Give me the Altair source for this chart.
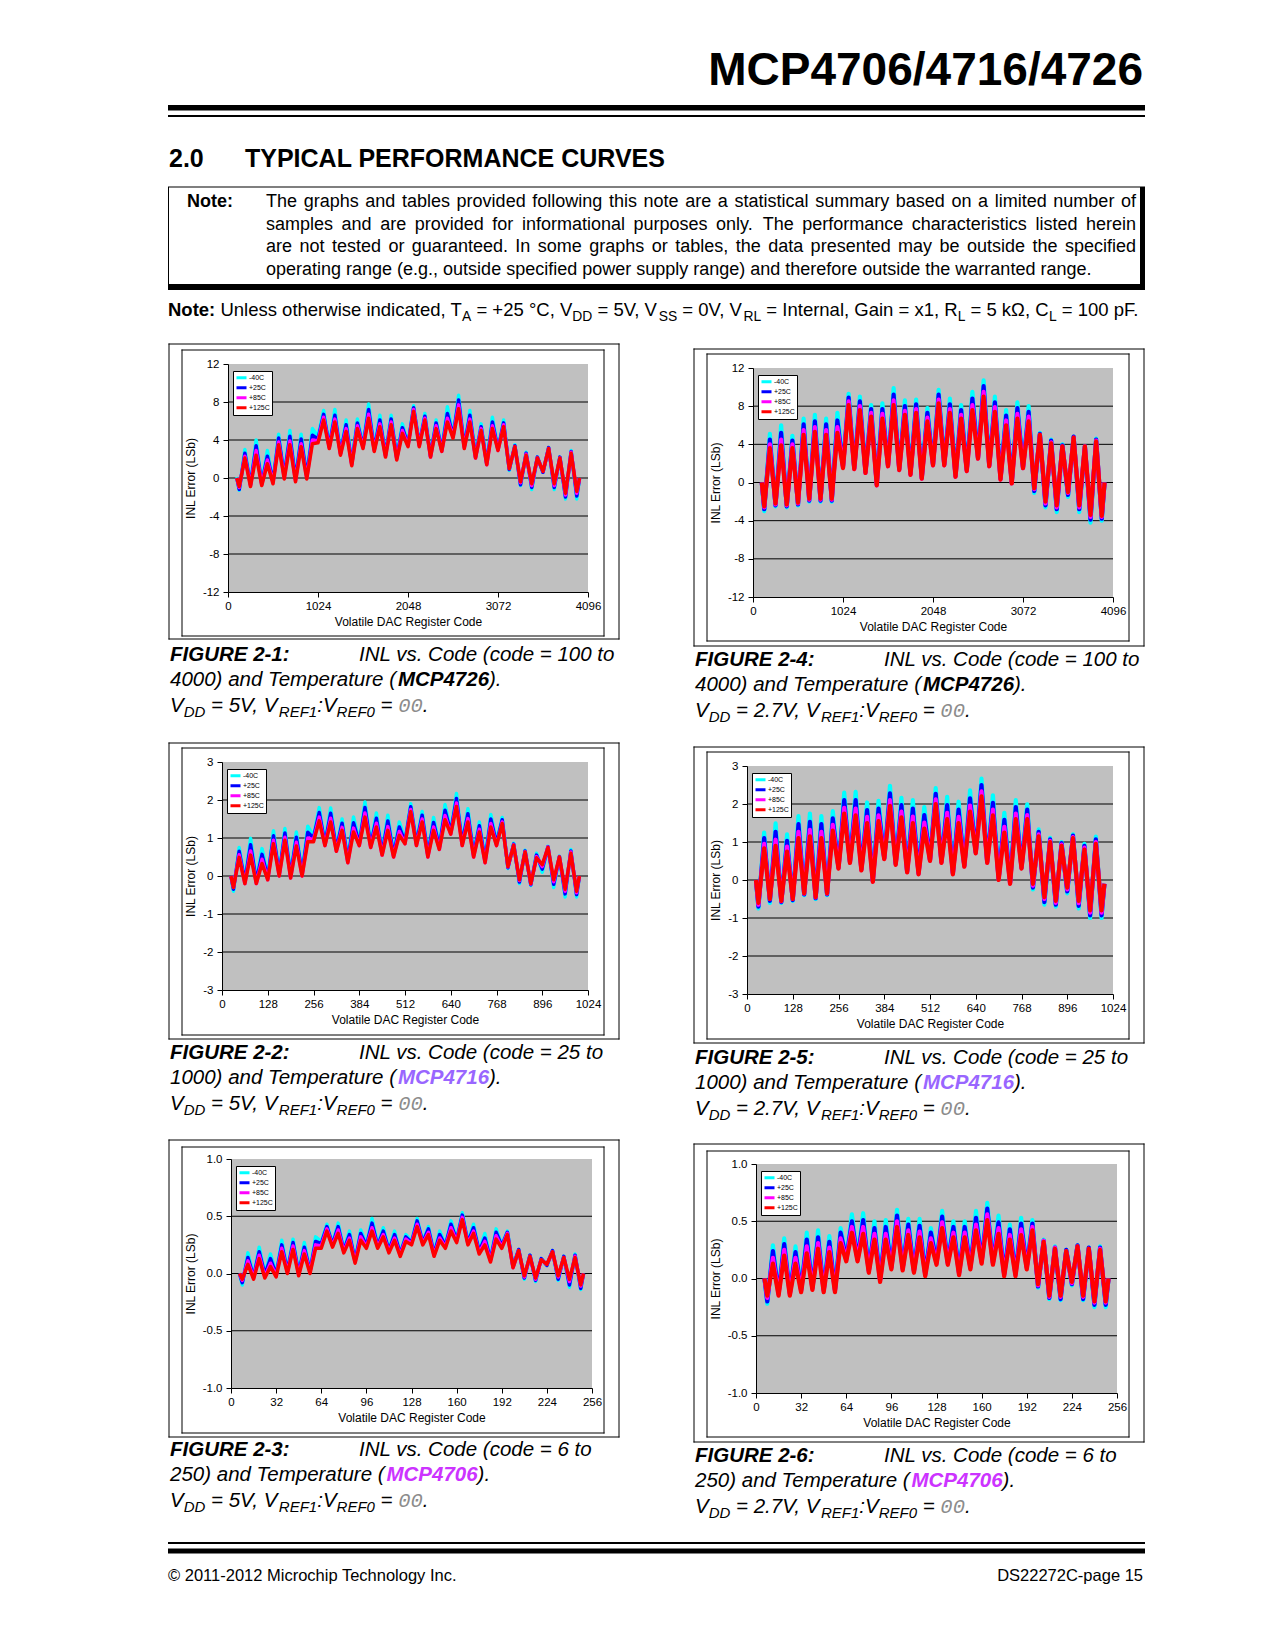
import altair as alt
import pandas as pd

FONT = "Liberation Sans"
TEMPS = ["-40C", "+25C", "+85C", "+125C"]
TEMP_COLORS = ["#00FFFF", "#0000FF", "#FF00FF", "#FF0000"]

# ---------------- sample codes ----------------
CODES_12BIT = [100] + list(range(128, 3969, 64)) + [4000]
CODES_10BIT = [25] + list(range(32, 993, 16)) + [1000]
CODES_8BIT = [6] + list(range(8, 249, 4)) + [250]

# ---------------- FIGURE 2-1 (MCP4726, VDD=5V) ----------------
F21_M40 = [0.1, -1.3, 3.0, -0.6, 4.0, -0.5, 2.9, -0.3, 4.6, 0.3, 5.0, 0.0, 4.6, 0.3, 5.2, 4.4, 7.1, 3.5, 7.2, 2.7, 6.1, 1.7, 6.2, 3.5, 7.8, 3.2, 6.6, 2.5, 6.6, 2.3, 5.7, 3.6, 7.6, 3.6, 6.8, 2.4, 6.1, 3.0, 7.5, 4.5, 8.7, 3.4, 7.1, 2.3, 5.7, 1.6, 6.4, 3.1, 6.1, 0.8, 3.5, -0.8, 2.7, -1.2, 2.2, 0.6, 3.2, -1.2, 2.2, -2.2, 2.9, -2.2, 0.0]
F21_P25 = [0.0, -1.2, 2.6, -0.7, 3.4, -0.6, 2.3, -0.4, 4.2, 0.2, 4.4, -0.1, 4.1, 0.2, 4.5, 4.1, 6.7, 3.3, 6.6, 2.6, 5.6, 1.5, 5.8, 3.3, 7.2, 3.0, 6.1, 2.4, 6.2, 2.1, 5.3, 3.5, 7.4, 3.5, 6.5, 2.3, 5.8, 2.9, 6.8, 4.4, 8.2, 3.3, 6.6, 2.2, 5.4, 1.5, 5.9, 3.0, 5.8, 0.9, 3.4, -0.7, 2.6, -1.0, 2.2, 0.6, 3.2, -1.0, 2.2, -2.0, 2.8, -1.9, 0.0]
F21_P85 = [0.0, -1.0, 2.3, -0.8, 2.9, -0.7, 1.9, -0.5, 3.8, 0.0, 3.9, -0.3, 3.6, 0.0, 4.0, 3.9, 6.4, 3.2, 6.2, 2.5, 5.2, 1.4, 5.5, 3.2, 6.7, 2.9, 5.7, 2.3, 5.9, 2.0, 5.0, 3.4, 7.2, 3.4, 6.3, 2.2, 5.5, 2.8, 6.3, 4.3, 7.7, 3.2, 6.2, 2.1, 5.2, 1.4, 5.5, 2.9, 5.6, 1.0, 3.3, -0.5, 2.5, -0.8, 2.1, 0.7, 3.1, -0.8, 2.1, -1.8, 2.7, -1.6, 0.0]
F21_P125 = [0.0, -0.9, 2.1, -0.9, 2.4, -0.8, 1.5, -0.6, 3.5, -0.1, 3.5, -0.4, 3.3, -0.1, 3.6, 3.7, 6.1, 3.1, 5.9, 2.4, 4.9, 1.3, 5.2, 3.1, 6.3, 2.8, 5.4, 2.2, 5.6, 1.9, 4.7, 3.3, 7.0, 3.3, 6.1, 2.2, 5.2, 2.8, 5.9, 4.2, 7.3, 3.1, 5.9, 2.1, 5.0, 1.4, 5.2, 2.9, 5.4, 1.0, 3.3, -0.4, 2.4, -0.6, 2.1, 0.7, 3.1, -0.6, 2.1, -1.6, 2.6, -1.4, 0.0]

# ---------------- FIGURE 2-4 (MCP4726, VDD=2.7V) ----------------
F24_M40 = [0.0, -3.0, 5.1, -2.5, 6.0, -2.6, 4.9, -2.4, 6.7, -2.0, 7.1, -2.0, 6.7, -2.0, 7.3, 1.8, 9.3, 1.6, 9.0, 1.2, 8.1, -0.1, 8.3, 1.9, 9.9, 1.5, 8.6, 1.0, 8.7, 0.6, 7.8, 2.0, 9.7, 2.0, 8.8, 0.8, 8.1, 1.4, 9.5, 2.7, 10.7, 1.9, 9.0, 0.5, 7.6, 0.1, 8.4, 1.7, 8.0, -1.1, 5.2, -2.6, 4.5, -3.1, 4.0, -1.5, 4.8, -3.1, 3.8, -4.2, 4.6, -4.0, 0.0]
F24_P25 = [0.0, -2.8, 4.5, -2.4, 5.2, -2.5, 4.4, -2.3, 6.1, -1.9, 6.4, -1.9, 6.1, -1.9, 6.5, 1.7, 8.9, 1.5, 8.5, 1.1, 7.7, -0.2, 7.7, 1.8, 9.2, 1.4, 8.0, 0.9, 8.2, 0.5, 7.3, 1.9, 9.2, 1.9, 8.2, 0.7, 7.6, 1.3, 8.8, 2.6, 10.1, 1.8, 8.4, 0.4, 7.0, 0.0, 7.8, 1.6, 7.4, -0.9, 5.1, -2.4, 4.4, -2.8, 3.9, -1.3, 4.8, -2.8, 3.8, -3.9, 4.5, -3.8, 0.0]
F24_P85 = [0.0, -2.6, 4.0, -2.3, 4.5, -2.4, 4.0, -2.2, 5.5, -1.8, 5.8, -1.8, 5.5, -1.8, 5.8, 1.6, 8.5, 1.4, 8.0, 1.0, 7.3, -0.3, 7.2, 1.7, 8.6, 1.3, 7.5, 0.8, 7.7, 0.4, 6.8, 1.8, 8.7, 1.8, 7.7, 0.6, 7.1, 1.2, 8.1, 2.5, 9.5, 1.7, 7.9, 0.3, 6.5, -0.1, 7.2, 1.5, 6.9, -0.7, 5.0, -2.2, 4.2, -2.6, 3.8, -1.1, 4.7, -2.6, 3.8, -3.6, 4.4, -3.6, 0.0]
F24_P125 = [0.0, -2.5, 3.6, -2.2, 3.9, -2.3, 3.6, -2.1, 5.0, -1.7, 5.3, -1.7, 5.0, -1.7, 5.2, 1.5, 8.1, 1.4, 7.6, 1.0, 6.9, -0.3, 6.7, 1.7, 8.1, 1.3, 7.1, 0.8, 7.3, 0.4, 6.4, 1.8, 8.3, 1.8, 7.3, 0.6, 6.7, 1.2, 7.6, 2.5, 9.0, 1.7, 7.4, 0.3, 6.0, -0.1, 6.7, 1.5, 6.4, -0.6, 5.0, -2.0, 4.1, -2.4, 3.8, -1.0, 4.7, -2.4, 3.8, -3.4, 4.3, -3.5, 0.0]

# ---------------- FIGURE 2-2 (MCP4716, VDD=5V) ----------------
F22_M40 = [0.0, -0.4, 0.75, -0.1, 0.99, -0.1, 0.72, 0.0, 1.19, 0.1, 1.25, 0.05, 1.16, 0.1, 1.31, 1.05, 1.8, 0.9, 1.79, 0.75, 1.5, 0.45, 1.55, 0.9, 1.95, 0.85, 1.66, 0.65, 1.6, 0.6, 1.42, 0.95, 1.9, 0.9, 1.7, 0.6, 1.54, 0.8, 1.88, 1.2, 2.17, 0.9, 1.77, 0.6, 1.42, 0.45, 1.62, 0.9, 1.54, 0.2, 0.86, -0.2, 0.68, -0.25, 0.6, 0.1, 0.78, -0.3, 0.52, -0.55, 0.7, -0.55, 0.0]
F22_P25 = [0.0, -0.35, 0.65, -0.15, 0.82, -0.15, 0.57, -0.05, 1.06, 0.05, 1.13, 0.0, 1.02, 0.05, 1.15, 1.0, 1.67, 0.85, 1.65, 0.7, 1.39, 0.4, 1.4, 0.85, 1.8, 0.8, 1.52, 0.6, 1.45, 0.55, 1.29, 0.9, 1.82, 0.85, 1.6, 0.55, 1.41, 0.75, 1.73, 1.15, 2.04, 0.85, 1.64, 0.55, 1.32, 0.4, 1.5, 0.85, 1.48, 0.22, 0.84, -0.16, 0.66, -0.23, 0.55, 0.18, 0.77, -0.22, 0.51, -0.47, 0.66, -0.49, 0.0]
F22_P85 = [0.0, -0.3, 0.56, -0.2, 0.66, -0.2, 0.44, -0.1, 0.94, 0.0, 1.02, -0.05, 0.89, 0.0, 1.0, 0.95, 1.55, 0.8, 1.52, 0.65, 1.28, 0.35, 1.26, 0.8, 1.66, 0.75, 1.39, 0.55, 1.3, 0.5, 1.17, 0.85, 1.75, 0.8, 1.5, 0.5, 1.29, 0.7, 1.59, 1.1, 1.92, 0.8, 1.51, 0.5, 1.23, 0.35, 1.38, 0.8, 1.42, 0.24, 0.82, -0.12, 0.64, -0.21, 0.51, 0.25, 0.76, -0.15, 0.5, -0.4, 0.63, -0.44, 0.0]
F22_P125 = [0.0, -0.3, 0.49, -0.2, 0.55, -0.2, 0.33, -0.1, 0.85, 0.0, 0.94, -0.05, 0.79, 0.0, 0.9, 0.9, 1.45, 0.8, 1.42, 0.65, 1.2, 0.35, 1.16, 0.8, 1.55, 0.75, 1.29, 0.55, 1.2, 0.5, 1.07, 0.85, 1.69, 0.8, 1.42, 0.5, 1.2, 0.7, 1.48, 1.1, 1.83, 0.8, 1.42, 0.5, 1.16, 0.35, 1.29, 0.8, 1.38, 0.25, 0.81, -0.1, 0.63, -0.2, 0.48, 0.3, 0.75, -0.1, 0.5, -0.35, 0.6, -0.4, 0.0]

# ---------------- FIGURE 2-5 (MCP4716, VDD=2.7V) ----------------
F25_M40 = [0.0, -0.75, 1.25, -0.6, 1.49, -0.6, 1.2, -0.55, 1.68, -0.4, 1.75, -0.5, 1.68, -0.4, 1.81, 0.35, 2.3, 0.5, 2.32, 0.3, 2.04, 0.0, 2.08, 0.6, 2.48, 0.45, 2.16, 0.25, 2.1, 0.2, 1.92, 0.55, 2.42, 0.5, 2.19, 0.2, 2.06, 0.4, 2.36, 0.75, 2.67, 0.5, 2.23, 0.05, 1.77, -0.05, 2.1, 0.35, 1.99, -0.25, 1.33, -0.65, 1.11, -0.7, 1.0, -0.35, 1.2, -0.75, 0.95, -1.0, 1.14, -1.0, -0.1]
F25_P25 = [0.0, -0.7, 1.1, -0.55, 1.27, -0.58, 1.03, -0.53, 1.47, -0.38, 1.53, -0.48, 1.47, -0.38, 1.62, 0.33, 2.1, 0.48, 2.1, 0.28, 1.84, -0.02, 1.88, 0.58, 2.28, 0.43, 1.97, 0.23, 1.88, 0.18, 1.71, 0.53, 2.27, 0.48, 1.97, 0.18, 1.85, 0.38, 2.15, 0.73, 2.5, 0.48, 2.03, 0.03, 1.58, -0.07, 1.92, 0.33, 1.85, -0.2, 1.27, -0.58, 1.07, -0.65, 0.97, -0.3, 1.17, -0.68, 0.9, -0.93, 1.07, -0.93, -0.1]
F25_P85 = [0.0, -0.65, 0.95, -0.5, 1.06, -0.56, 0.88, -0.5, 1.27, -0.36, 1.32, -0.46, 1.27, -0.36, 1.45, 0.31, 1.9, 0.46, 1.88, 0.26, 1.66, -0.04, 1.7, 0.56, 2.1, 0.41, 1.8, 0.21, 1.67, 0.16, 1.51, 0.51, 2.12, 0.46, 1.77, 0.16, 1.66, 0.36, 1.96, 0.71, 2.33, 0.46, 1.85, 0.01, 1.4, -0.09, 1.75, 0.31, 1.71, -0.15, 1.2, -0.5, 1.03, -0.6, 0.93, -0.25, 1.13, -0.61, 0.85, -0.86, 1.0, -0.86, -0.1]
F25_P125 = [0.0, -0.6, 0.83, -0.5, 0.9, -0.55, 0.75, -0.5, 1.1, -0.35, 1.15, -0.45, 1.1, -0.35, 1.3, 0.3, 1.75, 0.45, 1.7, 0.25, 1.5, -0.05, 1.55, 0.55, 1.95, 0.4, 1.65, 0.2, 1.5, 0.15, 1.35, 0.5, 2.0, 0.45, 1.6, 0.15, 1.5, 0.35, 1.8, 0.7, 2.2, 0.45, 1.7, 0.0, 1.25, -0.1, 1.6, 0.3, 1.6, -0.1, 1.15, -0.45, 1.0, -0.55, 0.9, -0.2, 1.1, -0.55, 0.8, -0.8, 0.95, -0.8, -0.1]

# ---------------- FIGURE 2-3 (MCP4706, VDD=5V) ----------------
F23_M40 = [0.0, -0.1, 0.18, -0.02, 0.23, 0.0, 0.17, 0.0, 0.29, 0.03, 0.3, 0.01, 0.27, 0.03, 0.32, 0.28, 0.43, 0.26, 0.44, 0.21, 0.37, 0.12, 0.38, 0.25, 0.48, 0.25, 0.4, 0.21, 0.37, 0.18, 0.34, 0.28, 0.48, 0.28, 0.41, 0.18, 0.37, 0.25, 0.46, 0.3, 0.53, 0.28, 0.43, 0.2, 0.35, 0.13, 0.39, 0.25, 0.37, 0.06, 0.21, -0.05, 0.16, -0.07, 0.13, 0.07, 0.2, -0.06, 0.15, -0.12, 0.17, -0.14, 0.0]
F23_P25 = [0.0, -0.08, 0.14, -0.03, 0.19, -0.01, 0.13, -0.01, 0.25, 0.02, 0.27, 0.0, 0.23, 0.02, 0.28, 0.26, 0.41, 0.25, 0.41, 0.2, 0.34, 0.11, 0.35, 0.24, 0.44, 0.24, 0.37, 0.2, 0.34, 0.17, 0.32, 0.27, 0.46, 0.27, 0.39, 0.17, 0.34, 0.24, 0.43, 0.29, 0.51, 0.27, 0.4, 0.19, 0.31, 0.12, 0.36, 0.24, 0.36, 0.06, 0.21, -0.04, 0.16, -0.06, 0.13, 0.07, 0.2, -0.05, 0.15, -0.1, 0.16, -0.13, 0.0]
F23_P85 = [0.0, -0.06, 0.11, -0.04, 0.16, -0.03, 0.09, -0.02, 0.22, 0.01, 0.24, -0.01, 0.2, 0.01, 0.25, 0.24, 0.39, 0.24, 0.38, 0.19, 0.31, 0.1, 0.32, 0.23, 0.4, 0.23, 0.34, 0.19, 0.31, 0.16, 0.3, 0.26, 0.43, 0.26, 0.36, 0.16, 0.31, 0.23, 0.4, 0.28, 0.49, 0.26, 0.37, 0.18, 0.28, 0.11, 0.33, 0.23, 0.35, 0.05, 0.2, -0.03, 0.15, -0.05, 0.12, 0.08, 0.19, -0.03, 0.14, -0.07, 0.15, -0.11, 0.0]
F23_P125 = [0.0, -0.05, 0.08, -0.05, 0.13, -0.04, 0.06, -0.03, 0.19, 0.0, 0.21, -0.02, 0.17, 0.0, 0.22, 0.22, 0.37, 0.23, 0.35, 0.18, 0.29, 0.09, 0.29, 0.22, 0.37, 0.22, 0.32, 0.18, 0.29, 0.15, 0.28, 0.25, 0.41, 0.25, 0.34, 0.15, 0.29, 0.22, 0.37, 0.27, 0.47, 0.25, 0.35, 0.17, 0.25, 0.1, 0.3, 0.22, 0.34, 0.05, 0.2, -0.02, 0.15, -0.04, 0.12, 0.08, 0.19, -0.02, 0.14, -0.05, 0.14, -0.1, 0.0]

# ---------------- FIGURE 2-6 (MCP4706, VDD=2.7V) ----------------
F26_M40 = [0.0, -0.22, 0.29, -0.12, 0.35, -0.12, 0.28, -0.09, 0.4, -0.07, 0.42, -0.09, 0.37, -0.09, 0.44, 0.18, 0.56, 0.18, 0.57, 0.08, 0.5, 0.0, 0.51, 0.11, 0.6, 0.1, 0.52, 0.08, 0.52, 0.05, 0.44, 0.15, 0.59, 0.15, 0.5, 0.06, 0.5, 0.11, 0.59, 0.16, 0.66, 0.15, 0.55, 0.05, 0.47, 0.05, 0.53, 0.11, 0.51, -0.08, 0.34, -0.18, 0.28, -0.19, 0.25, -0.06, 0.29, -0.19, 0.27, -0.25, 0.28, -0.25, 0.0]
F26_P25 = [0.0, -0.2, 0.24, -0.13, 0.3, -0.13, 0.23, -0.1, 0.34, -0.08, 0.36, -0.1, 0.32, -0.1, 0.4, 0.17, 0.5, 0.17, 0.51, 0.07, 0.44, -0.01, 0.45, 0.1, 0.55, 0.09, 0.47, 0.07, 0.46, 0.04, 0.4, 0.14, 0.54, 0.14, 0.45, 0.05, 0.45, 0.1, 0.53, 0.15, 0.61, 0.14, 0.49, 0.04, 0.43, 0.04, 0.48, 0.1, 0.48, -0.07, 0.33, -0.17, 0.27, -0.18, 0.25, -0.05, 0.29, -0.18, 0.27, -0.23, 0.27, -0.23, 0.0]
F26_P85 = [0.0, -0.17, 0.18, -0.14, 0.25, -0.14, 0.18, -0.11, 0.28, -0.09, 0.31, -0.11, 0.27, -0.11, 0.35, 0.16, 0.45, 0.16, 0.45, 0.06, 0.39, -0.02, 0.39, 0.09, 0.5, 0.08, 0.42, 0.06, 0.41, 0.03, 0.35, 0.13, 0.49, 0.13, 0.4, 0.04, 0.4, 0.09, 0.47, 0.14, 0.56, 0.13, 0.44, 0.03, 0.38, 0.03, 0.43, 0.09, 0.45, -0.06, 0.33, -0.16, 0.27, -0.16, 0.24, -0.04, 0.28, -0.16, 0.26, -0.21, 0.26, -0.21, 0.0]
F26_P125 = [0.0, -0.15, 0.13, -0.15, 0.2, -0.15, 0.13, -0.12, 0.22, -0.1, 0.26, -0.12, 0.23, -0.12, 0.31, 0.15, 0.4, 0.15, 0.39, 0.05, 0.34, -0.03, 0.34, 0.08, 0.45, 0.07, 0.38, 0.05, 0.36, 0.02, 0.31, 0.12, 0.44, 0.12, 0.36, 0.03, 0.36, 0.08, 0.42, 0.13, 0.51, 0.12, 0.39, 0.02, 0.34, 0.02, 0.38, 0.08, 0.42, -0.05, 0.32, -0.15, 0.26, -0.15, 0.24, -0.03, 0.28, -0.15, 0.26, -0.2, 0.25, -0.2, 0.0]

# ---------------- axes ----------------
X_TICKS_12 = [0, 1024, 2048, 3072, 4096]
X_TICKS_10 = [0, 128, 256, 384, 512, 640, 768, 896, 1024]
X_TICKS_8 = [0, 32, 64, 96, 128, 160, 192, 224, 256]
Y_TICKS_12 = [-12, -8, -4, 0, 4, 8, 12]
Y_TICKS_3 = [-3, -2, -1, 0, 1, 2, 3]
Y_TICKS_1 = [-1.0, -0.5, 0.0, 0.5, 1.0]
GRID_12 = [-8, -4, 0, 4, 8]
GRID_3 = [-2, -1, 0, 1, 2]
GRID_1 = [-0.5, 0.0, 0.5]

# ---------------- text metrics (Arial / Liberation Sans, per 1000 em) ----------------
_REG = {' ': 278, '!': 278, '"': 355, '#': 556, '$': 556, '%': 889, '&': 667, "'": 191, '(': 333, ')': 333,
        '*': 389, '+': 584, ',': 278, '-': 333, '.': 278, '/': 278, ':': 278, ';': 278, '<': 584, '=': 584,
        '>': 584, '?': 556, '@': 1015,
        'A': 667, 'B': 667, 'C': 722, 'D': 722, 'E': 667, 'F': 611, 'G': 778, 'H': 722, 'I': 278, 'J': 500,
        'K': 667, 'L': 556, 'M': 833, 'N': 722, 'O': 778, 'P': 667, 'Q': 778, 'R': 722, 'S': 667, 'T': 611,
        'U': 722, 'V': 667, 'W': 944, 'X': 667, 'Y': 667, 'Z': 611,
        'a': 556, 'b': 556, 'c': 500, 'd': 556, 'e': 556, 'f': 278, 'g': 556, 'h': 556, 'i': 222, 'j': 222,
        'k': 500, 'l': 222, 'm': 833, 'n': 556, 'o': 556, 'p': 556, 'q': 556, 'r': 333, 's': 500, 't': 278,
        'u': 556, 'v': 500, 'w': 722, 'x': 500, 'y': 500, 'z': 500, '°': 400, 'Ω': 768, '©': 737}
for _d in "0123456789":
    _REG[_d] = 556
_BOLD = dict(_REG)
_BOLD.update({'!': 333, ':': 333, ';': 333, 'A': 722, 'B': 722, 'J': 556, 'K': 722, 'L': 611,
              'a': 556, 'b': 611, 'c': 556, 'd': 611, 'e': 556, 'f': 333, 'g': 611, 'h': 611, 'i': 278,
              'j': 278, 'k': 556, 'l': 278, 'm': 889, 'n': 611, 'o': 611, 'p': 611, 'q': 611, 'r': 389,
              's': 556, 't': 333, 'u': 611, 'v': 556, 'w': 778, 'x': 556, 'y': 556, 'z': 500})


def text_width(s, size, bold=False, mono=False):
    if mono:
        return len(s) * 600 * size / 1000.0
    t = _BOLD if bold else _REG
    return sum(t.get(c, 556) for c in s) * size / 1000.0


def flow(segs, x, y, rows):
    for text, st in segs:
        size = st['size']
        bold = st.get('weight') == 'bold'
        mono = st.get('font', FONT) != FONT
        lead = len(text) - len(text.lstrip(' '))
        x += text_width(' ' * lead, size, bold, mono)
        body = text.strip(' ')
        if body:
            rows.append(dict(x=x, y=y + st.get('dy', 0), text=body, size=size,
                             weight=st.get('weight', 'normal'), style=st.get('style', 'normal'),
                             color=st.get('color', 'black'), align='left', font=st.get('font', FONT)))
        x += text_width(text.lstrip(' '), size, bold, mono)
    return x


def justify(line, x0, x1, y, size, rows, last=False):
    words = line.split(' ')
    widths = [text_width(w, size) for w in words]
    gap = text_width(' ', size) if last else (x1 - x0 - sum(widths)) / (len(words) - 1)
    x = x0
    for w, ww in zip(words, widths):
        rows.append(dict(x=x, y=y, text=w, size=size, weight='normal', style='normal',
                         color='black', align='left', font=FONT))
        x += ww + gap


def shift(rows, ox, oy):
    out = []
    for r in rows:
        r = dict(r)
        r['x'] = r['x'] - ox
        r['y'] = r['y'] - oy
        if 'x2' in r:
            r['x2'] = r['x2'] - ox
            r['y2'] = r['y2'] - oy
        out.append(r)
    return out


def text_layers(rows):
    df = pd.DataFrame(rows)
    layers = []
    for key, g in df.groupby(['weight', 'style', 'color', 'size', 'align', 'font'], sort=False):
        weight, style, color, size, align, font = key
        layers.append(
            alt.Chart(g.reset_index(drop=True)[['x', 'y', 'text']]).mark_text(
                font=font, fontWeight=weight, fontStyle=style, color=color, fontSize=float(size),
                align=align, baseline='alphabetic'
            ).encode(
                x=alt.X('x:Q', scale=None, axis=None),
                y=alt.Y('y:Q', scale=None, axis=None),
                text='text:N'
            )
        )
    return layers


def rule_layers(rows):
    df = pd.DataFrame(rows)
    layers = []
    for key, g in df.groupby(['sw', 'color', 'op'], sort=False):
        sw, color, op = key
        layers.append(
            alt.Chart(g.reset_index(drop=True)[['x', 'x2', 'y', 'y2']]).mark_rule(
                strokeWidth=float(sw), color=color, opacity=float(op), strokeCap='square'
            ).encode(
                x=alt.X('x:Q', scale=None, axis=None), x2='x2:Q',
                y=alt.Y('y:Q', scale=None, axis=None), y2='y2:Q'
            )
        )
    return layers


def bar_layer(rows):
    # solid black bars (page rules) drawn as filled rectangles
    df = pd.DataFrame(rows)
    return alt.Chart(df).mark_rect(color='black').encode(
        x=alt.X('x:Q', scale=None, axis=None), x2='x2:Q',
        y=alt.Y('y:Q', scale=None, axis=None), y2='y2:Q'
    )


def bar(x0, x1, y0, y1):
    return dict(x=x0, x2=x1, y=y0, y2=y1)


def hrule(x0, x1, y, sw=1, color='black', op=1):
    return dict(x=x0, x2=x1, y=y, y2=y, sw=sw, color=color, op=op)


def vrule(x, y0, y1, sw=1, color='black', op=1):
    return dict(x=x, x2=x, y=y0, y2=y1, sw=sw, color=color, op=op)


def box(x0, y0, x1, y1):
    return [hrule(x0, x1, y0), hrule(x0, x1, y1), vrule(x0, y0, y1), vrule(x1, y0, y1)]


def spacer():
    return alt.Chart(pd.DataFrame({'a': [0]})).mark_rule(opacity=0, color='white').encode(
        x=alt.value(0), x2=alt.value(1), y=alt.value(0), y2=alt.value(1)
    ).properties(width=1, height=1)


# ---------------- panels (page coordinates) ----------------
ORIGIN_X = 167           # left edge of the layout column (1px spacer lives at 167..168)
TOP_Y = 13               # top of header
MID_Y = 340              # top of the chart block (1px spacer lives at 340..341)
COLS = [(168, 656), (657, 1145)]
ROWS = [(341, 740), (740, 1137), (1137, 1530)]

PANELS = [
    dict(fig='2-1', row=0, col=0, codes=CODES_12BIT, series=[F21_M40, F21_P25, F21_P85, F21_P125],
         xmax=4096, xticks=X_TICKS_12, ymax=12, yticks=Y_TICKS_12, grid=GRID_12, yfmt='d', lw=3.5,
         plot=(228, 364, 360, 228), outer=(169, 344, 619, 639), inner=(182, 350, 604, 636),
         cap=(170, 359, 660.5), chip='MCP4726', chipcolor='black', cfrom='100', cto='4000', vdd='5V'),
    dict(fig='2-4', row=0, col=1, codes=CODES_12BIT, series=[F24_M40, F24_P25, F24_P85, F24_P125],
         xmax=4096, xticks=X_TICKS_12, ymax=12, yticks=Y_TICKS_12, grid=GRID_12, yfmt='d', lw=4.2,
         plot=(753, 368, 360, 229), outer=(694, 349, 1144, 646), inner=(707, 354, 1129, 641),
         cap=(695, 884, 665.5), chip='MCP4726', chipcolor='black', cfrom='100', cto='4000', vdd='2.7V'),
    dict(fig='2-2', row=1, col=0, codes=CODES_10BIT, series=[F22_M40, F22_P25, F22_P85, F22_P125],
         xmax=1024, xticks=X_TICKS_10, ymax=3, yticks=Y_TICKS_3, grid=GRID_3, yfmt='d', lw=3.5,
         plot=(222, 762, 366, 228), outer=(169, 743, 619, 1039), inner=(182, 748, 604, 1035),
         cap=(170, 359, 1058.5), chip='MCP4716', chipcolor='#9966FF', cfrom='25', cto='1000', vdd='5V'),
    dict(fig='2-5', row=1, col=1, codes=CODES_10BIT, series=[F25_M40, F25_P25, F25_P85, F25_P125],
         xmax=1024, xticks=X_TICKS_10, ymax=3, yticks=Y_TICKS_3, grid=GRID_3, yfmt='d', lw=4.2,
         plot=(747, 766, 366, 228), outer=(694, 747, 1144, 1043), inner=(707, 752, 1129, 1039),
         cap=(695, 884, 1063.5), chip='MCP4716', chipcolor='#9966FF', cfrom='25', cto='1000', vdd='2.7V'),
    dict(fig='2-3', row=2, col=0, codes=CODES_8BIT, series=[F23_M40, F23_P25, F23_P85, F23_P125],
         xmax=256, xticks=X_TICKS_8, ymax=1.0, yticks=Y_TICKS_1, grid=GRID_1, yfmt='.1f', lw=3.5,
         plot=(231, 1159, 361, 229), outer=(169, 1140, 619, 1437), inner=(182, 1147, 604, 1433),
         cap=(170, 359, 1455.5), chip='MCP4706', chipcolor='#CC33FF', cfrom='6', cto='250', vdd='5V'),
    dict(fig='2-6', row=2, col=1, codes=CODES_8BIT, series=[F26_M40, F26_P25, F26_P85, F26_P125],
         xmax=256, xticks=X_TICKS_8, ymax=1.0, yticks=Y_TICKS_1, grid=GRID_1, yfmt='.1f', lw=4.2,
         plot=(756, 1164, 361, 229), outer=(694, 1144, 1144, 1442), inner=(707, 1151, 1129, 1437),
         cap=(695, 884, 1461.5), chip='MCP4706', chipcolor='#CC33FF', cfrom='6', cto='250', vdd='2.7V'),
]

CAP = 20.5
IT = dict(size=CAP, style='italic')
BI = dict(size=CAP, style='italic', weight='bold')
SUB = dict(size=15, style='italic', dy=5)
ZERO = dict(size=CAP, style='italic', color='#8C8C8C', font='Liberation Mono')
MINUS_FIX = "replace(datum.label, '\u2212', '-')"


def temp_legend():
    return alt.Legend(orient='none', legendX=5, legendY=7, title=None, fillColor='white',
                      strokeColor='black', padding=2, cornerRadius=0, rowPadding=0, clipHeight=9.5,
                      symbolType='stroke', symbolSize=100, symbolStrokeWidth=3,
                      labelFontSize=7, labelOffset=1, labelColor='black', labelFont=FONT)


def panel(p):
    px, py, w, h = p['plot']
    xscale = alt.Scale(domain=[0, p['xmax']], nice=False, zero=False)
    yscale = alt.Scale(domain=[-p['ymax'], p['ymax']], nice=False, zero=False)
    xaxis = alt.Axis(values=p['xticks'], format='d', title='Volatile DAC Register Code', grid=False,
                     domainColor='black', tickColor='black', tickSize=5, labelFontSize=11.5,
                     labelColor='black', labelPadding=3, labelFlush=False, labelOverlap=False,
                     labelFont=FONT, titleFont=FONT, titleFontSize=12, titleFontWeight='normal',
                     titleColor='black', titlePadding=5)
    yaxis = alt.Axis(values=p['yticks'], format=p['yfmt'], title='INL Error (LSb)', grid=False,
                     domainColor='black', tickColor='black', tickSize=5, labelFontSize=11.5,
                     labelColor='black', labelPadding=4, labelExpr=MINUS_FIX, labelFont=FONT,
                     titleFont=FONT, titleFontSize=12, titleFontWeight='normal', titleColor='black',
                     titlePadding=5)
    cscale = alt.Scale(domain=TEMPS, range=TEMP_COLORS)

    layers = [alt.Chart(pd.DataFrame({'inl': p['grid']})).mark_rule(color='black', strokeWidth=1)
              .encode(y=alt.Y('inl:Q', scale=yscale, axis=yaxis))]
    for temp, vals in zip(TEMPS, p['series']):
        df = pd.DataFrame({'code': p['codes'], 'inl': vals, 'temp': temp})
        layers.append(
            alt.Chart(df).mark_line(strokeWidth=p['lw'], strokeJoin='round').encode(
                x=alt.X('code:Q', scale=xscale, axis=xaxis),
                y=alt.Y('inl:Q', scale=yscale, axis=yaxis),
                color=alt.Color('temp:N', scale=cscale, legend=temp_legend())
            )
        )

    cx0, cx1 = COLS[p['col']]
    cy0, cy1 = ROWS[p['row']]
    rules = box(*p['outer']) + box(*p['inner'])
    rules += [hrule(cx0, cx1, cy0, color='white', op=0), hrule(cx0, cx1, cy1, color='white', op=0)]
    layers += rule_layers(shift(rules, px, py))

    x0, xi, yb = p['cap']
    rows = []
    flow([("FIGURE " + p['fig'] + ":", BI)], x0, yb, rows)
    flow([("INL vs. Code (code = " + p['cfrom'] + " to", IT)], xi, yb, rows)
    flow([(p['cto'] + ") and Temperature (", IT), (p['chip'], dict(BI, color=p['chipcolor'])),
          (").", IT)], x0, yb + 25.5, rows)
    flow([("V", IT), ("DD", SUB), (" = " + p['vdd'] + ", V", IT), ("REF1", SUB), (":V", IT),
          ("REF0", SUB), (" = ", IT), ("00", ZERO), (".", IT)],
         x0, yb + 51, rows)
    layers += text_layers(shift(rows, px, py))

    return alt.layer(*layers).properties(
        width=w, height=h, view=alt.ViewBackground(fill='#C0C0C0', stroke='transparent'))


# ---------------- header ----------------
HW, HH = 1145 - ORIGIN_X, MID_Y - TOP_Y
NOTE_LINES = [
    "The graphs and tables provided following this note are a statistical summary based on a limited number of",
    "samples and are provided for informational purposes only. The performance characteristics listed herein",
    "are not tested or guaranteed. In some graphs or tables, the data presented may be outside the specified",
    "operating range (e.g., outside specified power supply range) and therefore outside the warranted range.",
]
hrows = [dict(x=1143, y=85, text="MCP4706/4716/4726", size=46, weight='bold', style='normal',
              color='black', align='right', font=FONT)]
flow([("2.0", dict(size=25, weight='bold'))], 169, 167, hrows)
flow([("TYPICAL PERFORMANCE CURVES", dict(size=25, weight='bold'))], 245, 167, hrows)
flow([("Note:", dict(size=18, weight='bold'))], 187, 207, hrows)
for i, line in enumerate(NOTE_LINES):
    justify(line, 266, 1136, 207 + 22.5 * i, 18, hrows, last=(i == len(NOTE_LINES) - 1))


def note2(S):
    reg = dict(size=S)
    sub = dict(size=S * 0.75, dy=S * 0.28)
    return [("Note:", dict(size=S, weight='bold')), (" Unless otherwise indicated, T", reg), ("A", sub),
            (" = +25 °C, V", reg), ("DD", sub), (" = 5V, V", reg), ("SS", sub), (" = 0V, V", reg),
            ("RL", sub), (" = Internal, Gain = x1, R", reg), ("L", sub), (" = 5 kΩ, C", reg), ("L", sub),
            (" = 100 pF.", reg)]


_tmp = []
_w1 = flow(note2(1.0), 0, 0, _tmp)
S2 = min(18.5, 975.0 / _w1)
flow(note2(S2), 168, 316, hrows)

hbars = [bar(168, 1145, 105, 110.5), bar(168, 1145, 115, 117),
         bar(168, 1145, 186.5, 187.5), bar(168, 169, 187, 285),
         bar(168, 1145, 284, 290), bar(1140, 1145, 187, 290)]

header = alt.layer(bar_layer(shift(hbars, ORIGIN_X, TOP_Y)),
                   *text_layers(shift(hrows, ORIGIN_X, TOP_Y))).properties(width=HW, height=HH)

# ---------------- footer ----------------
FY = ROWS[-1][1]
frows = [dict(x=168, y=1581, text="© 2011-2012 Microchip Technology Inc.", size=16.5, weight='normal',
              style='normal', color='black', align='left', font=FONT),
         dict(x=1143, y=1581, text="DS22272C-page 15", size=16.5, weight='normal',
              style='normal', color='black', align='right', font=FONT)]
fbars = [bar(168, 1145, 1542, 1544), bar(168, 1145, 1548.5, 1553.5)]
footer = alt.layer(bar_layer(shift(fbars, ORIGIN_X, FY)),
                   *text_layers(shift(frows, ORIGIN_X, FY))).properties(width=HW, height=60)


# ---------------- assembly ----------------
def cell(p):
    return alt.hconcat(spacer(), panel(p), spacing=0).resolve_scale(color='independent')


columns = []
for c in range(2):
    ps = [p for p in PANELS if p['col'] == c]
    ps.sort(key=lambda q: q['row'])
    columns.append(alt.vconcat(spacer(), *[cell(p) for p in ps], spacing=0)
                   .resolve_scale(color='independent'))

mid = alt.hconcat(*columns, spacing=0).resolve_scale(color='independent')

chart = alt.vconcat(header, mid, footer, spacing=0).resolve_scale(color='independent').properties(
    padding={"left": ORIGIN_X - 8, "top": TOP_Y - 8, "right": 5, "bottom": 5}
).configure(font=FONT).configure_view(strokeWidth=0)

chart.save("out.html", embed_options={"renderer": "svg", "actions": False})
